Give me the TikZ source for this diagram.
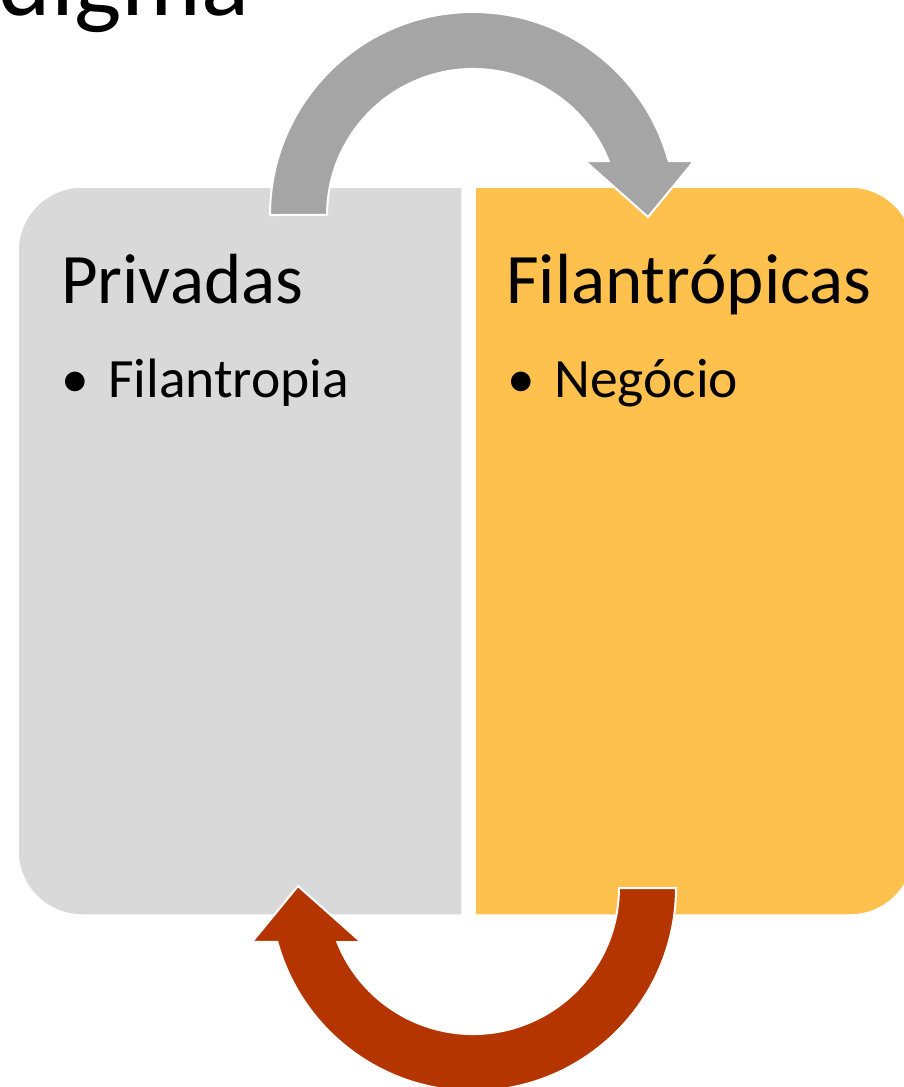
\documentclass[tikz,border=0pt]{standalone}
\usepackage{fontspec}
\setmainfont{Carlito}
\usetikzlibrary{calc}
\definecolor{boxgray}{HTML}{D9D9D9}
\definecolor{boxgold}{HTML}{FFC14D}
\definecolor{arrowgray}{HTML}{A5A5A5}
\definecolor{arrowred}{HTML}{B43500}
\def\loopArrow[#1]{\draw[#1] (270,215) arc[start angle=180,end angle=344.6,radius=203] -- (694,161) -- (648,217) -- (585,161) -- (608.7,161) arc[start angle=338.3,end angle=180,radius=146] -- cycle;}

\begin{document}
\begin{tikzpicture}[x=1pt,y=-1pt]
			%%%%% START %%%%%
			\useasboundingbox (0,0) rectangle (903,1087);
			
			\node[anchor=base east, inner sep=0, font=\fontsize{100}{100}\selectfont] (title) at (249,15) {Paradigma};
			
			\draw[fill=boxgray, draw=white, line width=1.5] (462,187) -- (82,187) arc[start angle=270,end angle=180,radius=64] -- (18,851) arc[start angle=180,end angle=90,radius=64] -- (462,915) -- cycle;
			\draw[fill=boxgold, draw=white, line width=1.5] (475,187) -- (850,187) arc[start angle=270,end angle=360,radius=64] -- (914,851) arc[start angle=0,end angle=90,radius=64] -- (475,915) -- cycle;
			
			\loopArrow[fill=arrowgray, draw=white, line width=2];
			\loopArrow[fill=arrowred, draw=white, line width=2, rotate around={180:(473,551.5)}];
			
			\node[anchor=base west, inner sep=0, font=\fontsize{71}{71}\selectfont] (privadas) at (61,303) {Privadas};
			\node[anchor=base west, inner sep=0, font=\fontsize{55.5}{55.5}\selectfont] (bulletA) at (61,397) {•};
			\node[anchor=base west, inner sep=0, font=\fontsize{55.5}{55.5}\selectfont] (filantropia) at (108,397) {Filantropia};
			
			\node[anchor=base west, inner sep=0, font=\fontsize{71}{71}\selectfont] (filantropicas) at (506,303) {Filantrópicas};
			\node[anchor=base west, inner sep=0, font=\fontsize{55.5}{55.5}\selectfont] (bulletB) at (507,397) {•};
			\node[anchor=base west, inner sep=0, font=\fontsize{55.5}{55.5}\selectfont] (negocio) at (554,397) {Negócio};
			
			%%%%% END %%%%%
\end{tikzpicture}
\end{document}
